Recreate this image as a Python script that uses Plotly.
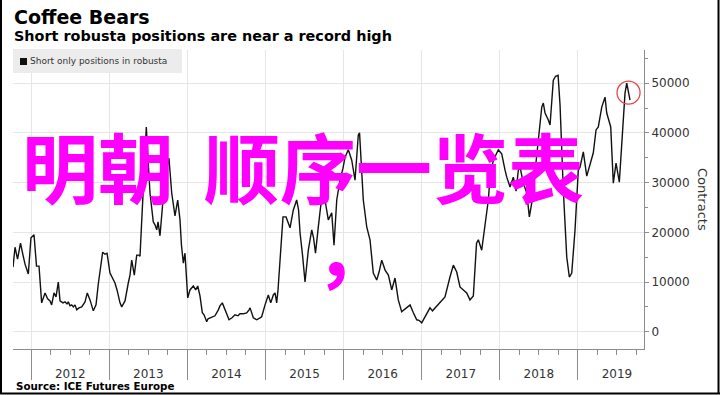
import plotly.graph_objects as go

# ---- data (decimal year, short-only contracts) ----
year_frac = [
    2011.767, 2011.793, 2011.825, 2011.863, 2011.895, 2011.921, 2011.963, 2011.997,
    2012.036, 2012.068, 2012.100, 2012.134, 2012.177, 2012.211, 2012.241, 2012.262,
    2012.292, 2012.318, 2012.347, 2012.369, 2012.407, 2012.433, 2012.458, 2012.475,
    2012.497, 2012.519, 2012.539, 2012.561, 2012.583, 2012.612, 2012.647, 2012.689,
    2012.718, 2012.753, 2012.795, 2012.830, 2012.859, 2012.881, 2012.915, 2012.945,
    2012.971, 2013.009, 2013.047, 2013.073, 2013.099, 2013.115, 2013.137, 2013.159,
    2013.201, 2013.243, 2013.265, 2013.287, 2013.320, 2013.351, 2013.374, 2013.393,
    2013.428, 2013.444, 2013.474, 2013.489, 2013.521, 2013.563, 2013.585, 2013.607,
    2013.624, 2013.649, 2013.691, 2013.735, 2013.764, 2013.799, 2013.841, 2013.876,
    2013.905, 2013.924, 2013.948, 2013.969, 2014.004, 2014.033, 2014.059, 2014.076,
    2014.106, 2014.132, 2014.161, 2014.191, 2014.213, 2014.247, 2014.264, 2014.289,
    2014.328, 2014.353, 2014.396, 2014.417, 2014.447, 2014.481, 2014.507, 2014.533,
    2014.571, 2014.609, 2014.648, 2014.673, 2014.712, 2014.759, 2014.789, 2014.802,
    2014.844, 2014.887, 2014.930, 2014.951, 2014.994, 2015.036, 2015.067, 2015.100,
    2015.122, 2015.143, 2015.160, 2015.186, 2015.224, 2015.263, 2015.288, 2015.314,
    2015.356, 2015.399, 2015.423, 2015.442, 2015.474, 2015.506, 2015.548, 2015.592,
    2015.615, 2015.640, 2015.676, 2015.720, 2015.762, 2015.804, 2015.848, 2015.877,
    2015.912, 2015.954, 2015.992, 2016.018, 2016.060, 2016.104, 2016.146, 2016.188,
    2016.204, 2016.232, 2016.252, 2016.296, 2016.338, 2016.380, 2016.424, 2016.454,
    2016.488, 2016.531, 2016.573, 2016.616, 2016.658, 2016.700, 2016.744, 2016.773,
    2016.808, 2016.851, 2016.893, 2016.936, 2016.965, 2017.000, 2017.042, 2017.074,
    2017.106, 2017.138, 2017.170, 2017.234, 2017.298, 2017.362, 2017.405, 2017.448,
    2017.490, 2017.533, 2017.576, 2017.618, 2017.661, 2017.702, 2017.725, 2017.768,
    2017.811, 2017.853, 2017.875, 2017.917, 2017.981, 2018.024, 2018.067, 2018.089,
    2018.131, 2018.173, 2018.208, 2018.237, 2018.259, 2018.301, 2018.345, 2018.378,
    2018.409, 2018.451, 2018.493, 2018.537, 2018.557, 2018.579, 2018.621, 2018.643,
    2018.685, 2018.714, 2018.746, 2018.771, 2018.813, 2018.857, 2018.890, 2018.921,
    2018.963, 2019.005, 2019.027, 2019.069, 2019.113, 2019.155, 2019.197, 2019.232,
    2019.261, 2019.305, 2019.347, 2019.369, 2019.420, 2019.453, 2019.488, 2019.530,
    2019.561, 2019.603, 2019.625, 2019.667,
]
short_positions = [
    13000, 17000, 14600, 17800, 15400, 13600, 11600, 18900,
    19500, 13200, 13200, 5800, 7800, 6600, 6200, 5400,
    7800, 7000, 10000, 6200, 5800, 6000, 5600, 6000,
    5200, 5400, 5000, 5400, 4400, 4800, 5000, 6000,
    7800, 6400, 4200, 5400, 9600, 11800, 16000, 15600,
    15800, 11800, 10600, 9800, 8400, 7200, 5800, 5000,
    6200, 9800, 11400, 14400, 11400, 15400, 15400, 15200,
    26500, 31500, 41200, 36600, 27900, 22100, 21500, 20500,
    22100, 19300, 27100, 32500, 34900, 27900, 23300, 26500,
    22500, 17400, 13800, 15800, 6800, 8400, 8800, 9200,
    8400, 9200, 7200, 3800, 3400, 2000, 2600, 2800,
    3000, 3200, 4400, 5200, 5800, 4400, 3400, 2400,
    2800, 3400, 3200, 3600, 3600, 3800, 4400, 4800,
    2800, 2400, 2800, 3000, 5400, 7400, 5800, 7400,
    7800, 5800, 8400, 14400, 23100, 23100, 22100, 20900,
    24500, 26500, 24500, 19900, 15400, 10000, 16400, 20500,
    18900, 15800, 21100, 27100, 26500, 22500, 23900, 17400,
    26500, 30500, 32900, 35100, 36600, 34500, 30500, 39600,
    40000, 30500, 26500, 21100, 18500, 11800, 10400, 12000,
    14400, 12400, 11400, 8400, 10800, 6400, 4000, 4400,
    4800, 5400, 3800, 2400, 2300, 1800, 3000, 4000,
    4800, 4200, 4800, 5800, 7000, 11000, 13400, 12000,
    9000, 8400, 7800, 6400, 7200, 17800, 18500, 16400,
    21100, 26500, 31100, 34500, 36600, 35800, 32500, 31100,
    29100, 31100, 28300, 32500, 33100, 29900, 27900, 23100,
    25900, 32500, 39200, 45200, 46000, 44000, 42600, 41600,
    50600, 51400, 51600, 45600, 28500, 15000, 11000, 11800,
    20500, 32500, 33100, 36200, 31300, 33900, 36000, 40600,
    41200, 45200, 47200, 44000, 41200, 29900, 33900, 30100,
    38000, 48000, 50000, 46600,
]
highlight_year = [2019.648]
highlight_value = [48100]

year_ticks = [2012, 2013, 2014, 2015, 2016, 2017, 2018, 2019]
year_labels = ["2012", "2013", "2014", "2015", "2016", "2017", "2018", "2019"]
year_centers = [2012.5, 2013.5, 2014.5, 2015.5, 2016.5, 2017.5, 2018.5, 2019.5]
y_ticks = [0, 10000, 20000, 30000, 40000, 50000]
y_labels = ["0", "10000", "20000", "30000", "40000", "50000"]

title_text = "Coffee Bears"
subtitle_text = "Short robusta positions are near a record high"
legend_text = "Short only positions in robusta"
source_text = "Source: ICE Futures Europe"
y_title = "Contracts"
overlay_1 = "明朝"
overlay_2 = "顺序一览表"
overlay_3 = "，"

# ---- layout geometry (pixels) ----
W, H = 720, 395
L, R, T, B = 13, 76, 50, 46
PW = W - L - R
PH = H - T - B


def fx(px):
    return (px - L) / PW


def fy(py):
    return (H - B - py) / PH


FONT = "DejaVu Sans"
GRID = "#e6e6e6"
AX = "#8c8c8c"

fig = go.Figure()
fig.add_trace(go.Scatter(
    x=year_frac, y=short_positions, mode="lines",
    line=dict(color="#111111", width=1.4),
    showlegend=False, hoverinfo="skip",
))
fig.add_trace(go.Scatter(
    x=highlight_year, y=highlight_value, mode="markers", xaxis="x2",
    marker=dict(symbol="circle-open", size=23, color="#e0474c",
                line=dict(width=1.3, color="#e0474c")),
    showlegend=False, hoverinfo="skip",
))

fig.update_layout(
    width=W, height=H,
    margin=dict(l=L, r=R, t=T, b=B, pad=0),
    paper_bgcolor="white", plot_bgcolor="white",
    font=dict(family=FONT, color="#333333"),
    showlegend=False,
    xaxis=dict(
        range=[2011.767, 2019.846],
        tickmode="array", tickvals=year_ticks, showticklabels=False,
        ticks="outside", ticklen=30, tickcolor=AX, tickwidth=1,
        showgrid=True, gridcolor=GRID, gridwidth=1,
        showline=True, linecolor=AX, linewidth=1,
        zeroline=False,
        minor=dict(tick0=2012, dtick=0.25, ticks="outside", ticklen=5,
                   tickcolor=AX, showgrid=False),
    ),
    xaxis2=dict(
        overlaying="x", matches="x", anchor="y", side="bottom",
        tickmode="array", tickvals=year_centers, ticktext=year_labels,
        ticks="outside", ticklen=14, tickcolor="rgba(0,0,0,0)",
        showgrid=False, showline=False, zeroline=False,
        tickfont=dict(size=12, color="#333333", family=FONT),
    ),
    yaxis=dict(
        side="right", range=[-3480, 56680],
        tickmode="array", tickvals=y_ticks, ticktext=y_labels,
        ticks="outside", ticklen=4, tickcolor=AX,
        showgrid=True, gridcolor=GRID, gridwidth=1,
        showline=True, linecolor=AX, linewidth=1,
        zeroline=False,
        tickfont=dict(size=12, color="#333333", family=FONT),
        minor=dict(tick0=0, dtick=5000, ticks="outside", ticklen=3,
                   tickcolor=AX, showgrid=False),
    ),
)

shapes = [
    # legend box
    dict(type="rect", xref="paper", yref="paper", layer="above",
         x0=fx(13), x1=fx(182), y0=fy(73), y1=fy(49),
         fillcolor="#ececec", line=dict(width=0)),
    dict(type="rect", xref="paper", yref="paper", layer="above",
         x0=fx(20), x1=fx(27), y0=fy(65), y1=fy(58),
         fillcolor="#111111", line=dict(width=0)),
    # outer frame
    dict(type="line", xref="paper", yref="paper", x0=fx(1), x1=fx(1),
         y0=fy(0), y1=fy(394), line=dict(color="black", width=2)),
    dict(type="line", xref="paper", yref="paper", x0=fx(718.5), x1=fx(718.5),
         y0=fy(0), y1=fy(394), line=dict(color="black", width=2)),
    dict(type="line", xref="paper", yref="paper", x0=fx(0), x1=fx(720),
         y0=fy(393.5), y1=fy(393.5), line=dict(color="black", width=2)),
]
fig.update_layout(shapes=shapes)

ann = [
    dict(text=f"<b>{title_text}</b>", x=fx(12), y=fy(17), xanchor="left", yanchor="middle",
         font=dict(size=19, color="black", family=FONT)),
    dict(text=f"<b>{subtitle_text}</b>", x=fx(12), y=fy(36.5), xanchor="left", yanchor="middle",
         font=dict(size=14.4, color="black", family=FONT)),
    dict(text=legend_text, x=fx(28), y=fy(61.5), xanchor="left", yanchor="middle",
         font=dict(size=9, color="#333333", family=FONT)),
    dict(text=f"<b>{source_text}</b>", x=fx(14), y=fy(386), xanchor="left", yanchor="middle",
         font=dict(size=10.3, color="black", family=FONT)),
    dict(text=y_title, x=fx(703), y=fy(199), xanchor="center", yanchor="middle",
         textangle=90, font=dict(size=13, color="#333333", family=FONT)),
    dict(text=f"<b>{overlay_1}</b>", x=fx(20), y=fy(165), xanchor="left", yanchor="middle",
         font=dict(size=76, color="#ff00ff", family="Noto Sans CJK SC")),
    dict(text=f"<b>{overlay_2}</b>", x=fx(202), y=fy(165), xanchor="left", yanchor="middle",
         font=dict(size=76, color="#ff00ff", family="Noto Sans CJK SC")),
    dict(text=f"<b>{overlay_3}</b>", x=fx(313), y=fy(247), xanchor="left", yanchor="middle",
         font=dict(size=76, color="#ff00ff", family="Noto Sans CJK SC")),
]
for a in ann:
    a.update(xref="paper", yref="paper", showarrow=False)
fig.update_layout(annotations=ann)

# remove the browser's default page margin so the figure sits at the window's top-left
fig.write_html("out.html", config={"displayModeBar": False},
               post_script="document.body.style.margin='0';")
